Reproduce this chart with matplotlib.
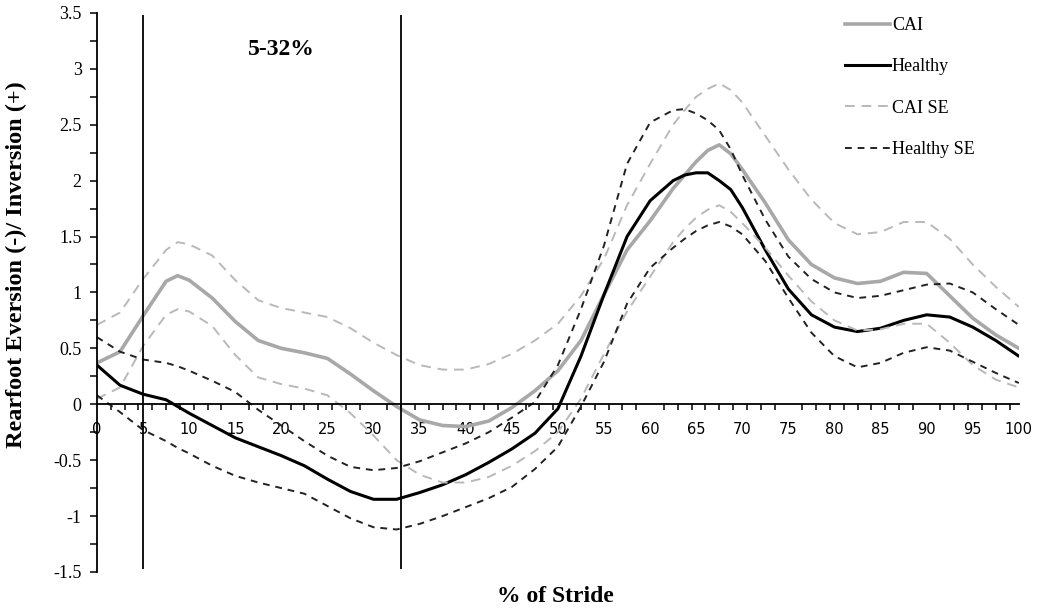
import matplotlib
matplotlib.use("Agg")
import matplotlib.pyplot as plt
from matplotlib.ticker import MultipleLocator
from matplotlib.lines import Line2D

# % of stride
stride = [0, 2.5, 5, 7.5, 8.75, 10, 12.5, 15, 17.5, 20, 22.5, 25, 27.5, 30, 32.5, 35, 37.5,
          40, 42.5, 45, 47.5, 50, 52.5, 55, 57.5, 60, 62.5, 63.75, 65, 66.25, 67.5, 68.75,
          70, 72.5, 75, 77.5, 80, 82.5, 85, 87.5, 90, 92.5, 95, 97.5, 100]

# rearfoot angle (deg), mean curves
cai = [0.37, 0.47, 0.79, 1.10, 1.15, 1.11, 0.95, 0.74, 0.57, 0.50, 0.46, 0.41, 0.27, 0.12,
       -0.02, -0.14, -0.19, -0.20, -0.15, -0.03, 0.12, 0.30, 0.57, 0.98, 1.38, 1.64, 1.93,
       2.05, 2.17, 2.27, 2.32, 2.24, 2.10, 1.80, 1.47, 1.25, 1.13, 1.08, 1.10, 1.18, 1.17,
       0.97, 0.77, 0.62, 0.50]
healthy = [0.35, 0.17, 0.09, 0.04, -0.02, -0.08, -0.19, -0.30, -0.38, -0.46, -0.55, -0.67,
           -0.78, -0.85, -0.85, -0.79, -0.72, -0.63, -0.52, -0.40, -0.26, -0.04, 0.43, 0.98,
           1.50, 1.82, 2.00, 2.05, 2.07, 2.07, 2.00, 1.92, 1.76, 1.38, 1.03, 0.80, 0.69,
           0.65, 0.68, 0.75, 0.80, 0.78, 0.69, 0.57, 0.43]

# standard error bands
cai_se_hi = [0.71, 0.82, 1.12, 1.38, 1.45, 1.43, 1.33, 1.11, 0.93, 0.86, 0.82, 0.78, 0.68,
             0.55, 0.44, 0.35, 0.31, 0.31, 0.36, 0.45, 0.57, 0.72, 0.97, 1.30, 1.78, 2.15,
             2.50, 2.63, 2.75, 2.82, 2.87, 2.81, 2.70, 2.40, 2.10, 1.83, 1.62, 1.52, 1.54,
             1.63, 1.63, 1.48, 1.25, 1.05, 0.87]
cai_se_lo = [0.05, 0.15, 0.52, 0.80, 0.85, 0.83, 0.70, 0.44, 0.24, 0.18, 0.14, 0.08, -0.08,
             -0.28, -0.50, -0.63, -0.70, -0.70, -0.65, -0.55, -0.42, -0.25, 0.05, 0.45, 0.83,
             1.14, 1.45, 1.57, 1.67, 1.74, 1.78, 1.72, 1.62, 1.40, 1.15, 0.92, 0.75, 0.66,
             0.67, 0.72, 0.72, 0.55, 0.35, 0.22, 0.15]
healthy_se_hi = [0.60, 0.47, 0.40, 0.37, 0.34, 0.30, 0.21, 0.11, -0.05, -0.19, -0.33, -0.46,
                 -0.56, -0.59, -0.57, -0.51, -0.43, -0.35, -0.25, -0.12, 0.02, 0.35, 0.85,
                 1.42, 2.15, 2.52, 2.63, 2.64, 2.60, 2.54, 2.45, 2.28, 2.05, 1.65, 1.32,
                 1.12, 1.00, 0.95, 0.97, 1.02, 1.07, 1.08, 1.00, 0.85, 0.71]
healthy_se_lo = [0.08, -0.07, -0.23, -0.33, -0.39, -0.44, -0.55, -0.64, -0.70, -0.75, -0.80,
                 -0.91, -1.02, -1.10, -1.12, -1.07, -1.00, -0.92, -0.84, -0.74, -0.58, -0.38,
                 -0.02, 0.38, 0.90, 1.22, 1.40, 1.48, 1.55, 1.60, 1.63, 1.59, 1.52, 1.28,
                 0.95, 0.64, 0.43, 0.33, 0.37, 0.46, 0.51, 0.48, 0.38, 0.28, 0.19]

phase = [5, 33]
phase_label = "5-32%"

serif = ["Liberation Serif", "DejaVu Serif"]
grey = "#a8a8a8"
light = "#b9b9b9"

fig = plt.figure(figsize=(10.37, 6.09), dpi=100)
ax = fig.add_axes([0.0935, 0.0608, 0.889, 0.918])

ax.plot(stride, cai, color=grey, lw=2.6, solid_capstyle="round", solid_joinstyle="round")
ax.plot(stride, healthy, color="black", lw=2.2, solid_capstyle="round",
        solid_joinstyle="round")
ax.plot(stride, cai_se_hi, color=light, lw=1.4, dashes=(5, 3.5))
ax.plot(stride, cai_se_lo, color=light, lw=1.4, dashes=(5, 3.5))
ax.plot(stride, healthy_se_hi, color="#222222", lw=1.4, dashes=(3.5, 3))
ax.plot(stride, healthy_se_lo, color="#222222", lw=1.4, dashes=(3.5, 3))

ax.vlines(phase, -1.47, 3.48, color="black", lw=1.3)
ax.text(20.0, 3.17, phase_label, fontsize=17, fontweight="bold", family=serif,
        ha="center", va="center")

ax.set_xlim(0, 100)
ax.set_ylim(-1.5, 3.5)
ax.spines["top"].set_visible(False)
ax.spines["right"].set_visible(False)
ax.spines["bottom"].set_position(("data", 0))
ax.spines["left"].set_linewidth(1.3)
ax.spines["bottom"].set_linewidth(1.3)

ax.xaxis.set_major_locator(MultipleLocator(5))
ax.xaxis.set_minor_locator(MultipleLocator(1.5))
ax.tick_params(axis="x", which="major", length=0, pad=13, labelsize=10.5)
ax.tick_params(axis="x", which="minor", length=4, width=1.1, direction="out")
ax.yaxis.set_major_locator(MultipleLocator(0.5))
ax.yaxis.set_minor_locator(MultipleLocator(0.25))
ax.tick_params(axis="y", which="both", length=5, width=1.1, direction="out", pad=6)
ax.set_yticks([-1.5, -1, -0.5, 0, 0.5, 1, 1.5, 2, 2.5, 3, 3.5])
ax.set_yticklabels(["-1.5", "-1", "-0.5", "0", "0.5", "1", "1.5", "2", "2.5", "3", "3.5"],
                   family=serif, fontsize=13)

fig.text(0.0155, 0.565, "Rearfoot Eversion (-)/ Inversion (+)", rotation=90,
         family=serif, fontsize=17.5, fontweight="bold", ha="center", va="center")
fig.text(0.536, 0.021, "% of Stride", family=serif, fontsize=17, fontweight="bold",
         ha="center", va="center")

handles = [
    Line2D([], [], color=grey, lw=2.6),
    Line2D([], [], color="black", lw=2.2),
    Line2D([], [], color=light, lw=1.4, dashes=(5, 3.5)),
    Line2D([], [], color="#222222", lw=1.4, dashes=(3.5, 3)),
]
labels = ["CAI", "Healthy", "CAI SE", "Healthy SE"]
fig.legend(handles, labels, loc="upper left", bbox_to_anchor=(845 / 1037, 1 - 17 / 609),
           frameon=False, borderpad=0, borderaxespad=0, handlelength=2.5,
           handletextpad=0.1, labelspacing=1.35, prop={"family": serif, "size": 13})

fig.savefig("out.png", dpi=100)
